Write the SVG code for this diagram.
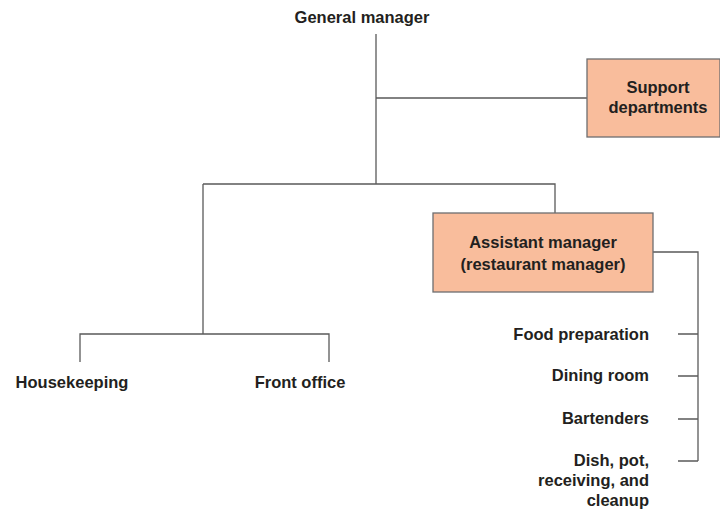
<svg xmlns="http://www.w3.org/2000/svg" width="720" height="512" viewBox="0 0 720 512">
<style>
text{font-family:"Liberation Sans",Arial,sans-serif;font-weight:bold;font-size:16.5px;fill:#231f20}
.c{text-anchor:middle}
.r{text-anchor:end}
.box{fill:#f9bd9c;stroke:#6d6e70;stroke-width:1.3}
.ln{fill:none;stroke:#5a5a5a;stroke-width:1.3}
</style>
<rect width="720" height="512" fill="#fff"/>
<g id="connectors">
<path class="ln" d="M376 34V184M376 98H587M203 184H555V213M203 184V334M80 362V334H329V362"/>
<path class="ln" d="M653 252H698V461M678 334H698M678 376H698M678 419H698M678 461H698"/>
</g>
<g id="general-manager"><text class="c" x="362" y="23">General manager</text></g>
<g id="support-departments"><rect class="box" x="587" y="59" width="133" height="78"/><text class="c" x="658" y="93">Support</text><text class="c" x="658" y="113">departments</text></g>
<g id="assistant-manager"><rect class="box" x="433" y="213" width="220" height="79"/><text class="c" x="543" y="248">Assistant manager</text><text class="c" x="543" y="270">(restaurant manager)</text></g>
<g id="housekeeping"><text class="c" x="72" y="388">Housekeeping</text></g>
<g id="front-office"><text class="c" x="300" y="388">Front office</text></g>
<g id="food-preparation"><text class="r" x="649" y="340">Food preparation</text></g>
<g id="dining-room"><text class="r" x="649" y="381">Dining room</text></g>
<g id="bartenders"><text class="r" x="649" y="424">Bartenders</text></g>
<g id="dish"><text class="r" x="649" y="466">Dish, pot,</text><text class="r" x="649" y="486">receiving, and</text><text class="r" x="649" y="506">cleanup</text></g>
</svg>
